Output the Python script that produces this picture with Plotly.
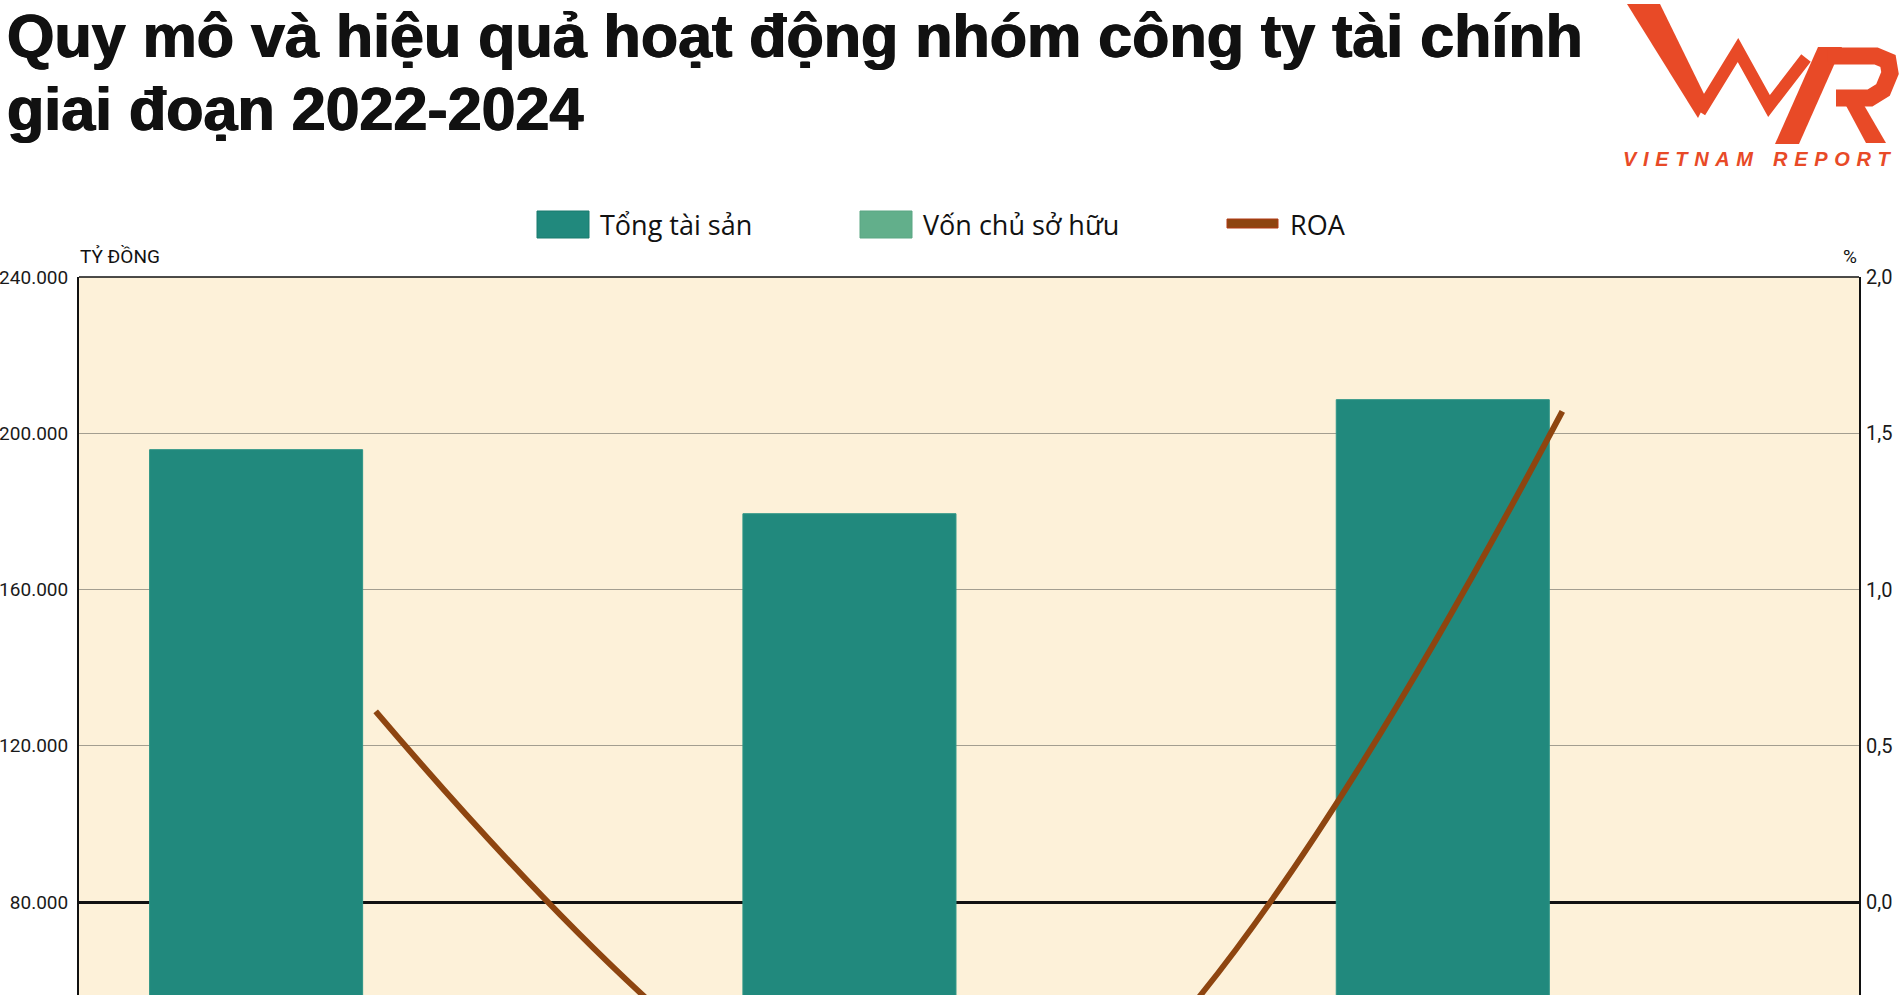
import plotly.graph_objects as go

# ---------------- data ----------------
years = ["2022", "2023", "2024"]
tong_tai_san = [195800, 179400, 208600]      # Tổng tài sản (tỷ đồng)
von_chu_so_huu = [44000, 41000, 45000]       # Vốn chủ sở hữu (tỷ đồng) - below visible area
roa = [0.61, -0.88, 1.57]                    # ROA (%)

left_ticks = [80000, 120000, 160000, 200000, 240000]
right_ticks = [0.0, 0.5, 1.0, 1.5, 2.0]

title_line1 = "Quy mô và hiệu quả hoạt động nhóm công ty tài chính"
title_line2 = "giai đoạn 2022-2024"
legend_names = ["Tổng tài sản", "Vốn chủ sở hữu", "ROA"]

# ---------------- style ----------------
C_TONG = "#21897D"
C_VON = "#62AF8B"
C_ROA = "#8E4510"
C_BG = "#FDF1D9"
C_LOGO = "#E84A27"
TICKFONT = "Roboto, Liberation Sans, sans-serif"
TITLEFONT = "Liberation Sans, Arial, sans-serif"

W, H = 1900, 995
PL, PR, PT, PB = 79, 1859, 277, 995


def fx(px):
    return (px - PL) / (PR - PL)


def fy(py):
    return (PB - py) / (PB - PT)


def path(points, close=False):
    s = "M " + " L ".join(f"{fx(x):.5f},{fy(y):.5f}" for x, y in points)
    return s + (" Z" if close else "")


fig = go.Figure()
fig.add_trace(go.Bar(x=years, y=tong_tai_san, name=legend_names[0],
                     marker=dict(color=C_TONG, line=dict(color="#2E9586", width=1)), showlegend=False))
fig.add_trace(go.Bar(x=years, y=von_chu_so_huu, name=legend_names[1],
                     marker=dict(color=C_VON, line=dict(color="#6DB894", width=1)), showlegend=False))
fig.add_trace(go.Scatter(x=years, y=roa, name=legend_names[2], yaxis="y2", mode="lines",
                         line=dict(color=C_ROA, width=6, shape="spline", smoothing=0.95), showlegend=False))

annotations = []
shapes = []

# title (two lines)
for txt, cy in [(title_line1, 36), (title_line2, 109)]:
    annotations.append(dict(text=txt, x=fx(5), y=fy(cy), xref="paper", yref="paper", xanchor="left", yanchor="middle",
                            showarrow=False,
                            font=dict(family=TITLEFONT, size=61, color="#111111", weight="bold",
                                      shadow="0.7px 0 0 #111111, -0.7px 0 0 #111111")))

# logo (VNR mark drawn as shapes)
shapes.append(dict(type="path", xref="paper", yref="paper",
                   path=path([(1627, 4), (1660, 4), (1707, 100), (1698, 118)], close=True),
                   fillcolor=C_LOGO, line=dict(width=0)))
shapes.append(dict(type="path", xref="paper", yref="paper",
                   path=path([(1700, 112), (1738, 50), (1769, 106), (1806, 58)]),
                   fillcolor="rgba(0,0,0,0)", line=dict(color=C_LOGO, width=12)))
shapes.append(dict(type="path", xref="paper", yref="paper",
                   path=path([(1775, 144), (1799, 144), (1842, 47), (1818, 47)], close=True),
                   fillcolor=C_LOGO, line=dict(width=0)))
shapes.append(dict(type="path", xref="paper", yref="paper",
                   path=path([(1828, 56), (1876, 56), (1888, 61), (1890, 73), (1883, 90), (1870, 98), (1836, 98)]),
                   fillcolor="rgba(0,0,0,0)", line=dict(color=C_LOGO, width=17)))
shapes.append(dict(type="path", xref="paper", yref="paper",
                   path=path([(1843, 100), (1861, 100), (1886, 143), (1866, 143)], close=True),
                   fillcolor=C_LOGO, line=dict(width=0)))
sp = "\u2004"
logo_sub = sp.join("VIETNAM") + sp * 3 + sp.join("REPORT")
annotations.append(dict(text=logo_sub, x=fx(1621), y=fy(159), xref="paper", yref="paper", xanchor="left", yanchor="middle",
                        showarrow=False, font=dict(family="Liberation Sans, Arial, sans-serif", size=20, color=C_LOGO,
                                                   weight="bold", style="italic")))

# custom legend
LEG_Y = 224
shapes.append(dict(type="rect", xref="paper", yref="paper", x0=fx(537), x1=fx(589), y0=fy(238), y1=fy(211),
                   fillcolor=C_TONG, line=dict(color="#1B7A6E", width=1)))
shapes.append(dict(type="rect", xref="paper", yref="paper", x0=fx(860), x1=fx(912), y0=fy(238), y1=fy(211),
                   fillcolor=C_VON, line=dict(color="#5AA683", width=1)))
shapes.append(dict(type="rect", xref="paper", yref="paper", x0=fx(1227), x1=fx(1278), y0=fy(228), y1=fy(219),
                   fillcolor=C_ROA, line=dict(color="#B23A14", width=1)))
for xpos, name in zip([598, 921, 1288], legend_names):
    annotations.append(dict(text=name, x=fx(xpos), y=fy(LEG_Y), xref="paper", yref="paper", xanchor="left", yanchor="middle",
                            showarrow=False, font=dict(family="Open Sans, sans-serif", size=27, color="#111111")))

# axis unit labels
annotations.append(dict(text="TỶ ĐỒNG", x=fx(78), y=fy(256), xref="paper", yref="paper", xanchor="left", yanchor="middle",
                        showarrow=False, font=dict(family=TICKFONT, size=19, color="#111111")))
annotations.append(dict(text="%", x=fx(1859), y=fy(256), xref="paper", yref="paper", xanchor="right", yanchor="middle",
                        showarrow=False, font=dict(family=TICKFONT, size=19, color="#111111")))

# top border
shapes.append(dict(type="line", xref="paper", yref="paper", x0=0, x1=1, y0=1, y1=1,
                   line=dict(color="#111111", width=1.5)))

fig.update_layout(
    width=W, height=H,
    margin=dict(l=PL, r=W - PR, t=PT, b=H - PB, pad=0, autoexpand=False),
    paper_bgcolor="white", plot_bgcolor=C_BG,
    separators=",.",
    barmode="group", bargap=0.194, bargroupgap=0.109,
    showlegend=False,
    xaxis=dict(type="category", showticklabels=False, showgrid=False, zeroline=False, showline=False, ticks="",
               automargin=False),
    yaxis=dict(range=[56200, 240000], tickvals=left_ticks, tickformat=",d", showgrid=True, gridcolor="#A39E90",
               gridwidth=1, zeroline=False, showline=True, linecolor="#111111", linewidth=2, ticks="",
               ticklabelstandoff=5, automargin=False,
               tickfont=dict(family=TICKFONT, size=19, color="#1a1a1a")),
    yaxis2=dict(range=[-0.2975, 2.0], overlaying="y", side="right", tickvals=right_ticks, tickformat=".1f",
                showgrid=False, zeroline=True, zerolinecolor="#111111", zerolinewidth=3,
                showline=True, linecolor="#111111", linewidth=2, ticks="", ticklabelstandoff=1, automargin=False,
                tickfont=dict(family=TICKFONT, size=20, color="#1a1a1a")),
    annotations=annotations, shapes=shapes,
)

fig.write_html("out.html", config={"displayModeBar": False},
               post_script="document.body.style.margin='0';document.body.style.overflow='hidden';")
